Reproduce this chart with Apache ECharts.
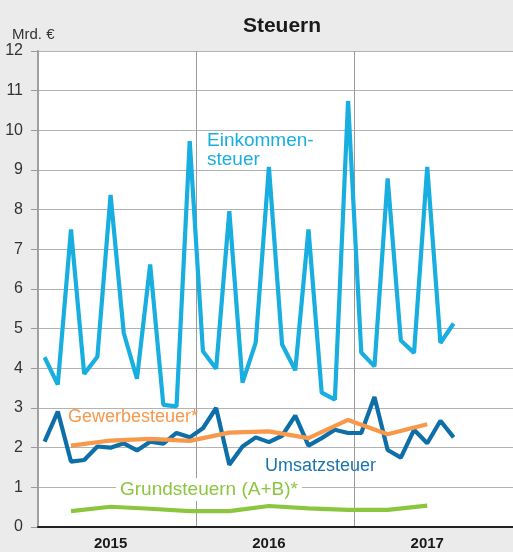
<!DOCTYPE html>
<html>
<head>
<meta charset="utf-8">
<title>Steuern</title>
<script src="https://cdn.jsdelivr.net/npm/echarts@6/dist/echarts.min.js"></script>
<style>
  html, body { margin: 0; padding: 0; background: #ebebec; }
  #main { width: 513px; height: 552px; }
</style>
</head>
<body>
<div id="main"></div>
<script>
// Monatswerte in Mrd. €
const years = ['2015', '2016', '2017']
const months = []
years.forEach(y => {
  for (let m = 1; m <= 12; m++) months.push(y + '-' + (m < 10 ? '0' + m : m))
})

const einkommen = [4.28, 3.59, 7.5, 3.86, 4.29, 8.37, 4.89, 3.74, 6.62, 3.08, 3.04, 9.73,
  4.43, 3.99, 7.96, 3.64, 4.65, 9.08, 4.6, 3.95, 7.5, 3.39, 3.21, 10.74,
  4.4, 4.05, 8.79, 4.7, 4.39, 9.08, 4.64, 5.13]

const umsatz = [2.15, 2.91, 1.65, 1.69, 2.03, 2.0, 2.11, 1.93, 2.15, 2.1, 2.37, 2.26,
  2.49, 3.0, 1.57, 2.03, 2.26, 2.14, 2.3, 2.81, 2.05, 2.24, 2.45, 2.37,
  2.37, 3.28, 1.94, 1.75, 2.45, 2.11, 2.68, 2.26]

// Quartalswerte (*), am letzten Monat des Quartals
const quarters = ['2015-03', '2015-06', '2015-09', '2015-12', '2016-03', '2016-06',
  '2016-09', '2016-12', '2017-03', '2017-06']
const gewerbe = [2.05, 2.18, 2.22, 2.17, 2.38, 2.41, 2.24, 2.7, 2.34, 2.59]
const grund = [0.4, 0.51, 0.46, 0.4, 0.4, 0.53, 0.47, 0.43, 0.43, 0.54]

const yTicks = [0, 12, 1]

const colors = {
  einkommen: '#19aee0',
  umsatz: '#0e6fa8',
  gewerbe: '#f7984a',
  grund: '#8cc63f'
}

function line (name, data, color) {
  return {
    name: name,
    type: 'line',
    data: data,
    symbol: 'none',
    connectNulls: true,
    lineStyle: { color: color, width: 4.2 },
    itemStyle: { color: color }
  }
}

let myChart = echarts.init(document.getElementById('main'))
let option = {
  backgroundColor: '#ebebec',
  animation: false,
  textStyle: { fontFamily: 'Liberation Sans, Arial, sans-serif' },
  title: {
    text: 'Steuern',
    left: 277,
    top: 11,
    textAlign: 'center',
    textStyle: { fontSize: 21, fontWeight: 'bold', color: '#1a1a1a' }
  },
  grid: {
    left: 38,
    right: 0,
    top: 51,
    bottom: 25,
    show: true,
    backgroundColor: '#fff',
    borderWidth: 0
  },
  xAxis: [
    {
      type: 'category',
      data: months,
      boundaryGap: true,
      axisLine: { lineStyle: { color: '#222', width: 2 } },
      axisTick: { inside: true, length: 7, interval: 0, lineStyle: { color: '#666' } },
      axisLabel: {
        interval: (idx) => idx % 12 === 5,
        formatter: (v) => v.slice(0, 4),
        fontSize: 15,
        fontWeight: 'bold',
        color: '#1a1a1a',
        margin: 9
      },
      splitLine: { show: false },
      z: 3
    },
    {
      type: 'category',
      data: months,
      boundaryGap: true,
      position: 'bottom',
      axisLine: { show: false },
      axisTick: {
        length: 25,
        interval: (idx) => idx > 0 && idx % 12 === 0,
        lineStyle: { color: '#9a9a9a', width: 1 }
      },
      axisLabel: { show: false },
      splitLine: {
        show: true,
        interval: (idx) => idx > 0 && idx % 12 === 0,
        lineStyle: { color: '#9a9a9a', width: 1 }
      }
    }
  ],
  yAxis: {
    type: 'value',
    min: yTicks[0],
    max: yTicks[1],
    interval: yTicks[2],
    axisLine: { show: true, lineStyle: { color: '#a0a0a0', width: 2 } },
    axisTick: { show: true, length: 7, lineStyle: { color: '#9a9a9a' } },
    axisLabel: { fontSize: 16, color: '#333', margin: 15 },
    splitLine: { lineStyle: { color: '#b3b3b3', width: 1 } }
  },
  series: [
    line('Grundsteuern', quarters.map((m, i) => [m, grund[i]]), colors.grund),
    line('Umsatzsteuer', umsatz, colors.umsatz),
    line('Gewerbesteuer', quarters.map((m, i) => [m, gewerbe[i]]), colors.gewerbe),
    line('Einkommensteuer', einkommen, colors.einkommen)
  ],
  graphic: [
    {
      type: 'text', left: 12, top: 27,
      style: { text: 'Mrd. €', fontSize: 15, fill: '#333', fontFamily: 'Liberation Sans' }
    },
    {
      type: 'text', left: 207, top: 131, z: 10,
      style: {
        text: 'Einkommen-\nsteuer', fontSize: 19, lineHeight: 19,
        fill: colors.einkommen, fontFamily: 'Liberation Sans'
      }
    },
    {
      type: 'text', left: 68, top: 408, z: 10,
      style: { text: 'Gewerbesteuer*', fontSize: 18, fill: colors.gewerbe, fontFamily: 'Liberation Sans' }
    },
    {
      type: 'text', left: 265, top: 457, z: 10,
      style: { text: 'Umsatzsteuer', fontSize: 18, fill: '#1a74ad', fontFamily: 'Liberation Sans' }
    },
    {
      type: 'text', left: 116, top: 478, z: 10,
      style: {
        text: 'Grundsteuern (A+B)*', fontSize: 19, fill: colors.grund,
        fontFamily: 'Liberation Sans', backgroundColor: '#fff', padding: [2, 4, 2, 4]
      }
    }
  ]
}
myChart.setOption(option)
</script>
</body>
</html>
